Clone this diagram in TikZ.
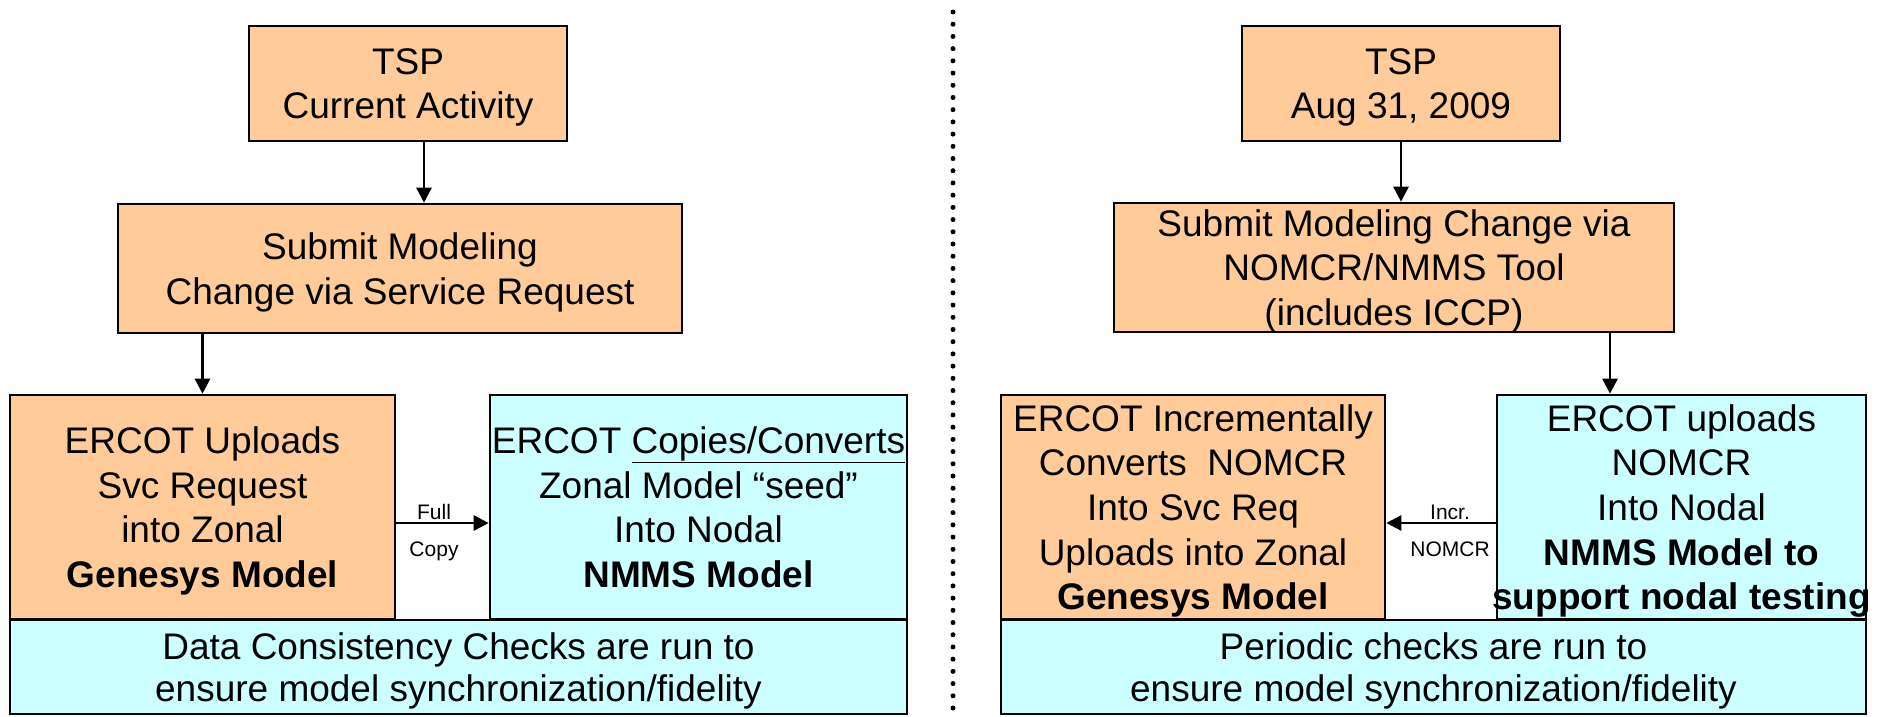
\documentclass[tikz,border=0pt]{standalone}
\usepackage{fontspec}
\setmainfont{Liberation Sans}
\usetikzlibrary{arrows.meta}
\definecolor{boxorange}{HTML}{FFCC99}
\definecolor{boxcyan}{HTML}{CCFFFF}
\begin{document}
\begin{tikzpicture}[x=1pt,y=-1pt,
 box/.style={draw=black, line width=2.6pt, inner sep=0pt, align=center, text depth=0pt, font=\fontsize{37}{44.6}\selectfont},
 ob/.style={box, fill=boxorange},
 cb/.style={box, fill=boxcyan},
 arr/.style={line width=2.6pt, -{Triangle[length=15pt,width=15pt]}},
 lab/.style={font=\fontsize{21}{24}\selectfont, inner sep=0pt, anchor=base}]
\useasboundingbox (0,0) rectangle (1884,716);
\fill[white] (0,0) rectangle (1884,716);
% left side
\node[ob, minimum width=318pt, minimum height=115pt] (ltsp) at (408,83.5) {TSP\\Current Activity};
\node[ob, minimum width=564pt, minimum height=129pt] (lsub) at (400,268.5) {Submit Modeling\\Change via Service Request};
\node[ob, minimum width=385pt, minimum height=224pt] (lup) at (202.5,507) {ERCOT Uploads\\Svc Request\\into Zonal\\\textbf{Genesys Model}};
\node[cb, minimum width=417pt, minimum height=224pt] (lnmms) at (698.5,507) {\makebox[380pt][c]{ERCOT \underline{Copies/Converts}}\\Zonal Model “seed”\\Into Nodal\\\textbf{NMMS Model}};
\node[cb, minimum width=897pt, minimum height=94pt, font=\fontsize{37}{42}\selectfont] (lbot) at (458.5,667) {Data Consistency Checks are run to\\ensure model synchronization/fidelity};
% right side
\node[ob, minimum width=318pt, minimum height=115pt] (rtsp) at (1401,83.5) {TSP\\Aug 31, 2009};
\node[ob, minimum width=560pt, minimum height=129pt] (rsub) at (1394,267.5) {Submit Modeling Change via\\NOMCR/NMMS Tool\\(includes ICCP)};
\node[ob, minimum width=384pt, minimum height=224pt] (rorange) at (1193,507) {ERCOT Incrementally\\Converts\ \ NOMCR\\Into Svc Req\\Uploads into Zonal\\\textbf{Genesys Model}};
\node[cb, minimum width=369pt, minimum height=224pt] (rcyan) at (1681.5,507) {ERCOT uploads\\NOMCR\\Into Nodal\\\textbf{NMMS Model to}\\\makebox[340pt][c]{\textbf{support nodal testing}}};
\node[cb, minimum width=865pt, minimum height=94pt, font=\fontsize{37}{42}\selectfont] (rbot) at (1433.5,667) {Periodic checks are run to\\ensure model synchronization/fidelity};
% connectors
\draw[arr] ([xshift=16pt]ltsp.south) -- ([xshift=16pt]ltsp.south |- lsub.north);
\draw[arr] (lup.north |- lsub.south) -- (lup.north);
\draw[arr] ([yshift=-16pt]lup.east) -- ([yshift=-16pt]lnmms.west);
\draw[arr] (rtsp.south) -- (rtsp.south |- rsub.north);
\draw[arr] ([xshift=-71.5pt]rcyan.north |- rsub.south) -- ([xshift=-71.5pt]rcyan.north);
\draw[arr] ([yshift=-16pt]rcyan.west) -- ([yshift=-16pt]rorange.east);
% labels
\node[lab] (full) at (434,519) {Full};
\node[lab] (copy) at (434,556) {Copy};
\node[lab] (incr) at (1450,519) {Incr.};
\node[lab] (nomcr) at (1450,556) {NOMCR};
% divider
\coordinate (dtop) at (953,12);
\coordinate (dbot) at (953,708);
\draw[line width=5pt, line cap=round, dash pattern=on 0pt off 12.2105pt] (dtop) -- (dbot);
\end{tikzpicture}
\end{document}
